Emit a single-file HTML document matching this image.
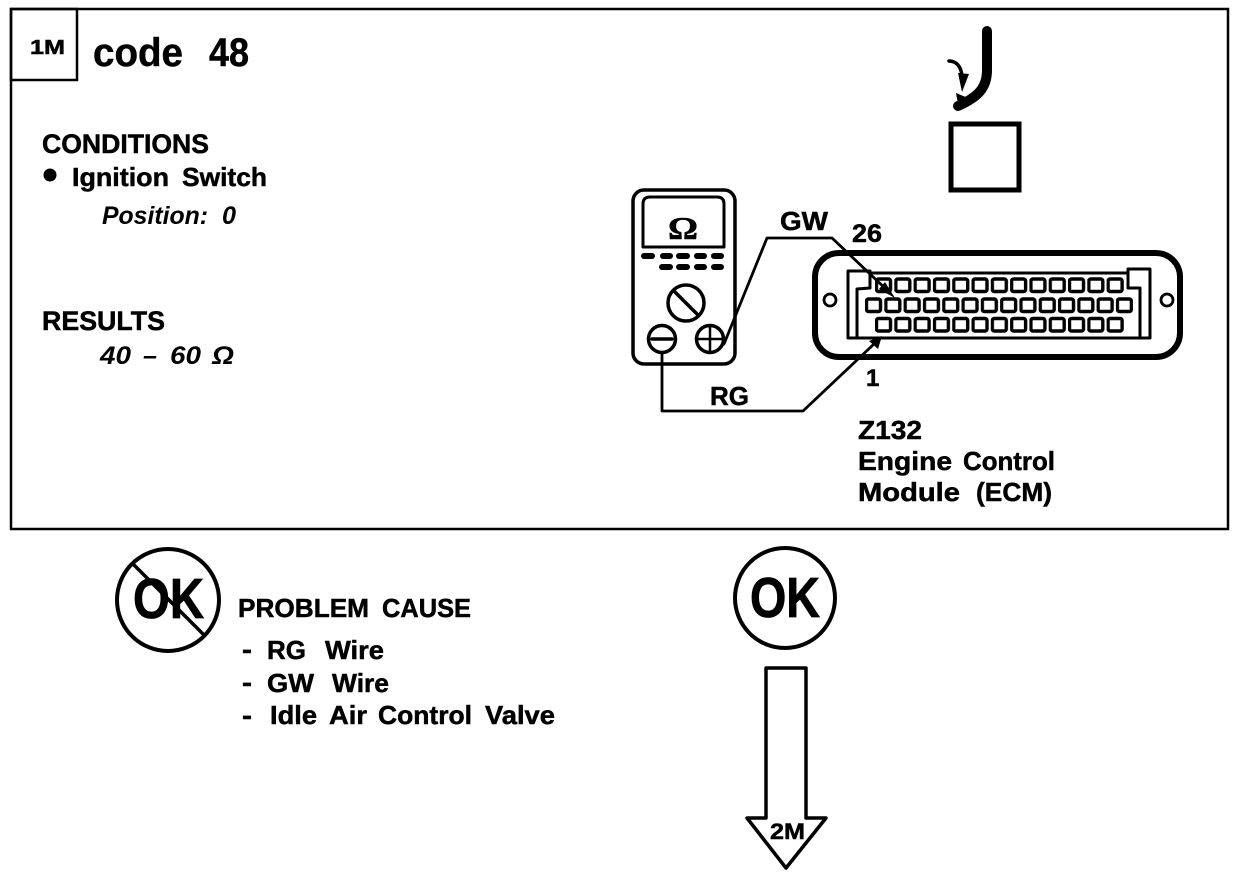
<!DOCTYPE html>
<html>
<head>
<meta charset="utf-8">
<style>
html,body{margin:0;padding:0;background:#fff}
svg{display:block}
text{font-family:"Liberation Sans",sans-serif;font-weight:bold;fill:#000;stroke:#000;stroke-width:.5px}
.i{font-style:italic;font-weight:bold;stroke-width:0}
.l{fill:none;stroke:#000;stroke-linejoin:round;stroke-linecap:round}
</style>
</head>
<body>
<svg width="1248" height="876" viewBox="0 0 1248 876" xmlns="http://www.w3.org/2000/svg">
<defs>
<pattern id="p" x="875" y="0" width="19.3" height="876" patternUnits="userSpaceOnUse">
<rect x="1.5" y="279" width="14" height="12.5" rx="2" fill="#fff" stroke="#000" stroke-width="3.4"/>
<rect x="1.5" y="318.5" width="14" height="12.5" rx="2" fill="#fff" stroke="#000" stroke-width="3.4"/>
</pattern>
<pattern id="q" x="865" y="0" width="19.3" height="876" patternUnits="userSpaceOnUse">
<rect x="1.5" y="299" width="14" height="12.5" rx="2" fill="#fff" stroke="#000" stroke-width="3.4"/>
</pattern>
</defs>

<rect x="11" y="9" width="1217" height="520" fill="none" stroke="#000" stroke-width="2.5"/>
<rect x="11" y="9" width="66" height="71" fill="none" stroke="#000" stroke-width="2.5"/>
<text x="30" y="54" font-size="20" textLength="35" lengthAdjust="spacingAndGlyphs">1M</text>
<text x="93" y="66" font-size="40" textLength="90" lengthAdjust="spacingAndGlyphs">code</text>
<text x="209" y="66" font-size="40" textLength="40" lengthAdjust="spacingAndGlyphs">48</text>

<text x="42" y="153" font-size="27" textLength="167" lengthAdjust="spacingAndGlyphs">CONDITIONS</text>
<circle cx="50" cy="175" r="6.5" fill="#000"/>
<text x="72" y="186" font-size="26" textLength="97" lengthAdjust="spacingAndGlyphs">Ignition</text>
<text x="182" y="186" font-size="26" textLength="85" lengthAdjust="spacingAndGlyphs">Switch</text>
<text class="i" x="102" y="224" font-size="25" textLength="106" lengthAdjust="spacingAndGlyphs">Position:</text>
<text class="i" x="222" y="224" font-size="25" textLength="14" lengthAdjust="spacingAndGlyphs">0</text>
<text x="42" y="330" font-size="27" textLength="123" lengthAdjust="spacingAndGlyphs">RESULTS</text>
<text class="i" x="100" y="364" font-size="25" textLength="31" lengthAdjust="spacingAndGlyphs">40</text>
<text class="i" x="143" y="364" font-size="25" textLength="14" lengthAdjust="spacingAndGlyphs">–</text>
<text class="i" x="170" y="364" font-size="25" textLength="31" lengthAdjust="spacingAndGlyphs">60</text>
<text class="i" x="212" y="364" font-size="25" textLength="22" lengthAdjust="spacingAndGlyphs">Ω</text>

<!-- hook -->
<path class="l" d="M987 31V70C987 88 978 97 958 106" stroke-width="10"/>
<path class="l" d="M949 61C957 61 961 67 962 76" stroke-width="3.5"/>
<path d="M958 73L969 74L962 92Z" fill="#000"/>
<path d="M956 93L968 98L958 104Z" fill="#000"/>
<rect x="951" y="124" width="68" height="66" fill="none" stroke="#000" stroke-width="5"/>

<!-- meter -->
<rect x="633" y="190" width="102" height="174" rx="11" fill="none" stroke="#000" stroke-width="3.5"/>
<path class="l" d="M643 247V204Q643 197 650 197H717Q724 197 724 204V247Z" stroke-width="3"/>
<text x="668" y="239" style="font-family:'Liberation Serif',serif" font-size="32" textLength="30" lengthAdjust="spacingAndGlyphs">Ω</text>
<g fill="#000">
<rect x="641" y="253" width="14" height="6" rx="3"/><rect x="660" y="253" width="13" height="6" rx="3"/><rect x="676" y="253" width="14" height="6" rx="3"/><rect x="694" y="253" width="13" height="6" rx="3"/><rect x="711" y="253" width="13" height="6" rx="3"/>
<rect x="659" y="264" width="14" height="6" rx="3"/><rect x="676" y="264" width="14" height="6" rx="3"/><rect x="694" y="264" width="13" height="6" rx="3"/><rect x="711" y="264" width="13" height="6" rx="3"/>
</g>
<circle class="l" cx="686" cy="303" r="18" stroke-width="3.5"/>
<path class="l" d="M674 291L698 315" stroke-width="3.5"/>
<circle cx="662" cy="339" r="13.5" fill="#fff" stroke="#000" stroke-width="3.5"/>
<path class="l" d="M652 339H672" stroke-width="3.5"/>
<circle cx="710" cy="339" r="13.5" fill="#fff" stroke="#000" stroke-width="3.5"/>
<path class="l" d="M697 339H723M710 326V352" stroke-width="2.5"/>

<!-- connector -->
<rect x="815" y="253" width="365" height="104" rx="24" fill="none" stroke="#000" stroke-width="6"/>
<circle cx="830" cy="300" r="6" fill="none" stroke="#000" stroke-width="2.8"/>
<circle cx="1167" cy="300" r="6" fill="none" stroke="#000" stroke-width="2.8"/>
<path class="l" d="M848 338V271H870V288L857 289V338M848 338H1150V269H1128V288H1140V338M870 273H1128" stroke-width="3"/>
<rect x="875" y="276" width="249" height="18" fill="url(#p)"/>
<rect x="865" y="296" width="268" height="18" fill="url(#q)"/>
<rect x="875" y="315" width="249" height="18" fill="url(#p)"/>

<!-- wires -->
<path class="l" d="M724 344L767 238H832L888 291" stroke-width="2.8"/>
<path d="M895 298L879 289L885 282Z" fill="#000"/>
<path class="l" d="M662 353V411H803L874 344" stroke-width="2.8"/>
<path d="M882 336L878 349L869 341Z" fill="#000"/>

<text x="780" y="230" font-size="26" textLength="48" lengthAdjust="spacingAndGlyphs">GW</text>
<text x="852" y="242" font-size="25" textLength="30" lengthAdjust="spacingAndGlyphs">26</text>
<text x="710" y="405" font-size="26" textLength="39" lengthAdjust="spacingAndGlyphs">RG</text>
<text x="866" y="386" font-size="24">1</text>
<text x="858" y="439" font-size="26" textLength="64" lengthAdjust="spacingAndGlyphs">Z132</text>
<text x="858" y="470" font-size="26" textLength="94" lengthAdjust="spacingAndGlyphs">Engine</text>
<text x="963" y="470" font-size="26" textLength="92" lengthAdjust="spacingAndGlyphs">Control</text>
<text x="858" y="501" font-size="26" textLength="102" lengthAdjust="spacingAndGlyphs">Module</text>
<text x="976" y="501" font-size="26" textLength="76" lengthAdjust="spacingAndGlyphs">(ECM)</text>

<!-- not ok -->
<circle cx="168" cy="600" r="51" fill="none" stroke="#000" stroke-width="4"/>
<text x="133" y="618" font-size="57" textLength="71" lengthAdjust="spacingAndGlyphs" style="stroke-width:.8px">OK</text>
<path class="l" d="M134 565L203 634" stroke-width="3.5"/>

<text x="238" y="617" font-size="26" textLength="131" lengthAdjust="spacingAndGlyphs">PROBLEM</text>
<text x="382" y="617" font-size="26" textLength="89" lengthAdjust="spacingAndGlyphs">CAUSE</text>
<text x="242" y="658" font-size="26" textLength="10" lengthAdjust="spacingAndGlyphs">-</text>
<text x="267" y="659" font-size="26" textLength="39" lengthAdjust="spacingAndGlyphs">RG</text>
<text x="325" y="659" font-size="26" textLength="59" lengthAdjust="spacingAndGlyphs">Wire</text>
<text x="242" y="691" font-size="26" textLength="10" lengthAdjust="spacingAndGlyphs">-</text>
<text x="267" y="692" font-size="26" textLength="47" lengthAdjust="spacingAndGlyphs">GW</text>
<text x="332" y="692" font-size="26" textLength="57" lengthAdjust="spacingAndGlyphs">Wire</text>
<text x="242" y="724" font-size="26" textLength="10" lengthAdjust="spacingAndGlyphs">-</text>
<text x="270" y="724" font-size="26" textLength="47" lengthAdjust="spacingAndGlyphs">Idle</text>
<text x="329" y="724" font-size="26" textLength="38" lengthAdjust="spacingAndGlyphs">Air</text>
<text x="378" y="724" font-size="26" textLength="94" lengthAdjust="spacingAndGlyphs">Control</text>
<text x="485" y="724" font-size="26" textLength="70" lengthAdjust="spacingAndGlyphs">Valve</text>

<!-- ok -->
<circle cx="785" cy="598" r="50" fill="none" stroke="#000" stroke-width="4"/>
<text x="750" y="617" font-size="57" textLength="70" lengthAdjust="spacingAndGlyphs" style="stroke-width:.8px">OK</text>

<path class="l" d="M766 668H806V818H826L786 868L747 818H766Z" stroke-width="3.5"/>
<text x="770" y="839" font-size="22" textLength="35" lengthAdjust="spacingAndGlyphs">2M</text>
</svg>
</body>
</html>
